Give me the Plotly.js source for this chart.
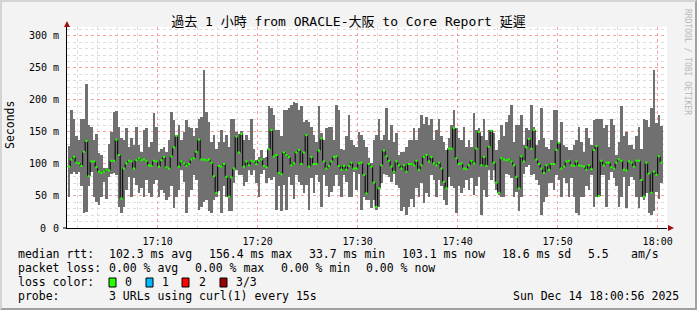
<!DOCTYPE html>
<html>
<head>
<meta charset="utf-8">
<script src="https://cdn.plot.ly/plotly-3.0.1.min.js"></script>
<style>
html,body{margin:0;padding:0;background:#f3f3f3;}
#wrap{position:relative;width:697px;height:310px;}
#chart{width:697px;height:310px;}
#frame{position:absolute;left:0;top:0;width:697px;height:310px;box-sizing:border-box;
border-top:2px solid #d4d4d4;border-left:2px solid #d4d4d4;border-right:2px solid #a0a0a0;border-bottom:2px solid #a0a0a0;pointer-events:none;}
</style>
</head>
<body>
<div id="wrap"><div id="chart"></div><div id="frame"></div></div>
<script>
// ---- data (ms), one value per 15 s step starting 17:01:00 ----
const startTime = '2025-12-14 17:01:00';
const stepSeconds = 15;

const medianMs = [
 96,107,111,102,101,97,119,136,81,104,
 104,95,88,86,88,91,90,105,105,138,
 114,46,93,101,105,104,93,106,109,106,
 107,105,98,97,105,104,96,106,111,95,
 93,112,126,144,96,104,101,97,100,107,
 109,119,138,107,107,106,107,102,81,55,
 97,96,100,80,49,79,93,143,118,147,
 96,104,98,105,104,100,105,107,97,95,
 123,153,112,114,86,84,118,114,111,98,
 101,118,122,100,118,145,96,111,100,100,
 121,140,104,93,97,104,111,112,97,91,
 97,91,97,102,93,93,101,102,83,54,
 100,96,71,33,62,98,121,112,105,96,
 88,104,98,93,98,88,100,100,98,105,
 91,98,111,114,104,111,101,98,102,93,
 72,62,124,124,156,109,100,101,93,92,
 98,105,101,124,150,98,111,97,127,152,
 102,71,55,109,107,106,107,104,98,80,
 62,112,104,126,139,124,153,107,100,93,
 86,98,91,100,100,122,133,93,96,104,
 105,98,97,104,98,97,96,91,98,92,
 122,128,50,105,98,102,102,95,93,102,
 107,105,91,90,104,102,96,105,105,75,
 49,102,85,55,88,83,112,102
];

const minMs = [
 49,85,88,85,88,66,23,25,65,88,
 49,41,36,49,72,45,80,85,86,83,
 33,23,33,59,80,49,78,67,54,62,
 49,75,54,49,69,75,49,59,54,44,
 49,65,31,49,59,91,72,23,49,59,
 83,75,28,33,41,44,26,23,44,49,
 58,23,65,49,26,26,71,91,83,83,
 65,72,91,83,91,70,49,85,91,70,
 78,75,80,28,65,26,67,28,80,67,
 46,83,72,67,54,67,28,78,54,83,
 72,33,83,65,49,57,65,83,65,49,
 83,72,49,49,88,59,85,28,49,44,
 44,31,44,28,33,70,85,83,80,72,
 85,67,62,26,33,20,33,46,33,62,
 49,70,39,54,49,83,75,49,75,65,
 44,36,80,65,62,23,65,54,62,75,
 59,78,52,65,80,20,59,49,91,75,
 91,59,52,49,49,85,83,78,49,57,
 26,49,85,96,98,83,85,75,67,20,
 41,49,70,70,59,83,75,49,78,70,
 49,78,49,23,20,49,49,65,59,83,
 33,49,49,83,83,33,75,88,78,65,
 33,49,80,31,65,80,75,49,31,49,
 44,54,23,20,26,57,46,70
];

const maxMs = [
 128,184,170,143,137,171,171,225,161,158,
 137,147,117,114,93,93,132,150,182,183,
 158,140,137,156,127,140,130,158,130,119,
 153,156,127,135,180,158,119,124,127,119,
 137,182,169,145,161,137,150,169,158,156,
 143,156,171,174,247,182,166,135,145,124,
 135,153,135,145,127,171,171,150,147,152,
 137,145,137,171,124,106,111,122,109,111,
 190,187,177,153,153,143,184,184,187,192,
 197,195,184,190,166,169,166,158,145,135,
 190,148,137,156,158,158,137,192,184,124,
 122,143,177,137,130,127,150,145,137,127,
 109,101,137,145,171,137,145,187,137,161,
 135,148,114,119,119,127,137,137,156,137,
 156,177,163,174,161,171,137,153,171,143,
 135,122,140,161,184,156,140,137,158,127,
 137,127,179,153,156,143,171,137,153,153,
 148,122,137,161,143,166,177,192,135,161,
 161,177,130,156,153,192,158,130,137,187,
 140,127,124,137,184,185,135,166,130,127,
 122,122,130,137,158,135,119,156,140,130,
 169,171,171,171,156,161,127,171,161,114,
 135,190,143,150,130,130,124,143,158,124,
 171,169,158,187,247,164,177,160
];

const yTickVals = [0,50,100,150,200,250,300];
const yTickText = ['0','50 m','100 m','150 m','200 m','250 m','300 m'];
const xTickVals = ['2025-12-14 17:10:00','2025-12-14 17:20:00','2025-12-14 17:30:00','2025-12-14 17:40:00','2025-12-14 17:50:00','2025-12-14 18:00:00'];
const xTickText = ['17:10','17:20','17:30','17:40','17:50','18:00'];
const xRange = ['2025-12-14 17:00:56','2025-12-14 18:00:56'];

const titleText = '過去 1 小時 from ORACLE-大阪 to Core Report 延遲';

// ---- build time positions ----
const t0 = new Date(startTime.replace(' ','T')+'Z').getTime();
function fmt(ms){ const d=new Date(ms); return d.toISOString().replace('T',' ').replace('Z',''); }
const n = medianMs.length;
const centers=[], starts=[], spans=[], greenX=[], greenY=[];
for(let i=0;i<n;i++){
  const s=t0+i*stepSeconds*1000, e=s+stepSeconds*1000;
  starts.push(fmt(s)); centers.push(fmt(s+stepSeconds*500));
  spans.push(maxMs[i]-minMs[i]);
  greenX.push(fmt(s),fmt(e),null); greenY.push(medianMs[i],medianMs[i],null);
}
const stepX = starts.concat([fmt(t0+n*stepSeconds*1000)]);
const stepY = medianMs.concat([medianMs[n-1]]);

const mono = 'DejaVu Sans Mono, Noto Sans CJK JP, monospace';
const L=67, R=667, T=27, B=228;
const px = v => (v-L)/(R-L);
const py = v => (B-v)/(B-T);

const traces = [
  {type:'bar', x:centers, base:minMs, y:spans, width:stepSeconds*1000,
   marker:{color:'#707070', line:{width:0}}, hoverinfo:'skip'},
  {type:'scatter', mode:'lines', x:stepX, y:stepY, line:{shape:'hv', color:'#000000', width:1}, hoverinfo:'skip'},
  {type:'scatter', mode:'lines', x:greenX, y:greenY, line:{color:'#26ff00', width:2}, connectgaps:false, hoverinfo:'skip'}
];

const annotations = [
  {text:'Seconds', xref:'paper', yref:'paper', x:px(10), y:py(125), xanchor:'center', yanchor:'middle', textangle:-90, showarrow:false, font:{family:mono, size:11.5, color:'#000'}},
  {text:'RRDTOOL / TOBI OETIKER', xref:'paper', yref:'paper', x:px(688), y:py(62), xanchor:'center', yanchor:'middle', textangle:90, showarrow:false, font:{family:mono, size:8, color:'#b8b8b8'}},
  {text:'0', xref:'paper', yref:'paper', x:px(48), y:py(228), xanchor:'right', yanchor:'middle', showarrow:false, font:{family:mono, size:10, color:'#000'}}
];
function legendText(txt, x, y){ annotations.push({text:txt, xref:'paper', yref:'paper', x:px(x), y:py(y), xanchor:'left', yanchor:'middle', showarrow:false, font:{family:mono, size:11.5, color:'#000'}}); }
legendText('median rtt:',16,254);
legendText('102.3 ms avg',107,254);
legendText('156.4 ms max',207,254);
legendText('33.7 ms min',307,254);
legendText('103.1 ms now',400,254);
legendText('18.6 ms sd',500,254);
legendText('5.5',586,254);
legendText('am/s',629,254);
legendText('packet loss:',16,268);
legendText('0.00 % avg',107,268);
legendText('0.00 % max',193,268);
legendText('0.00 % min',279,268);
legendText('0.00 % now',364,268);
legendText('loss color:',16,282);
legendText('0',123,282);
legendText('1',160,282);
legendText('2',197,282);
legendText('3/3',234,282);
legendText('probe:',16,296);
legendText('3 URLs using curl(1) every 15s',107,296);
annotations.push({text:'Sun Dec 14 18:00:56 2025', xref:'paper', yref:'paper', x:px(681), y:py(296), xanchor:'right', yanchor:'middle', showarrow:false, font:{family:mono, size:11.5, color:'#000'}});

const lossColors = ['#26ff00','#00b8ff','#ff0000','#990000'];
const boxX = [109,146,182,220];
const shapes = [];
lossColors.forEach((c,i)=>{
  shapes.push({type:'rect', xref:'paper', yref:'paper', x0:px(boxX[i]), x1:px(boxX[i]+7), y0:py(287), y1:py(278), fillcolor:c, line:{color:'#000', width:1}});
});
// axis arrows
shapes.push({type:'path', xref:'paper', yref:'paper', path:`M ${px(64)} ${py(27)} L ${px(70)} ${py(27)} L ${px(67)} ${py(21)} Z`, fillcolor:'#a01010', line:{width:0}});
shapes.push({type:'path', xref:'paper', yref:'paper', path:`M ${px(668)} ${py(225)} L ${px(668)} ${py(231)} L ${px(674)} ${py(228)} Z`, fillcolor:'#a01010', line:{width:0}});
// small tick at zero
shapes.push({type:'line', xref:'paper', yref:'paper', x0:px(63), x1:px(67), y0:0, y1:0, line:{color:'#000', width:1}});

const layout = {
  width:697, height:310,
  margin:{l:L, r:697-R, t:T, b:310-B, pad:0},
  paper_bgcolor:'#f3f3f3', plot_bgcolor:'#ffffff',
  showlegend:false, bargap:0,
  title:{text:titleText, xref:'container', yref:'container', x:0.5, y:1-21/310, xanchor:'center', yanchor:'middle', font:{family:mono, size:13, color:'#000'}},
  xaxis:{type:'date', range:xRange, tickvals:xTickVals, ticktext:xTickText, tickfont:{family:mono, size:10, color:'#000'},
    showgrid:true, gridcolor:'#f2a0a0', griddash:'dot', gridwidth:1,
    minor:{dtick:120000, tick0:'2025-12-14 17:00:00', showgrid:true, gridcolor:'#dcdcdc', griddash:'dot', gridwidth:1},
    showline:true, linecolor:'#000', linewidth:1, ticks:'', ticklabelstandoff:4, zeroline:false, fixedrange:true},
  yaxis:{range:[0,314], tickvals:yTickVals, ticktext:yTickText, tickfont:{family:mono, size:10, color:'#000'},
    showgrid:true, gridcolor:'#f2a0a0', griddash:'dot', gridwidth:1,
    minor:{dtick:10, showgrid:true, gridcolor:'#dcdcdc', griddash:'dot', gridwidth:1},
    showline:true, linecolor:'#000', linewidth:1, ticks:'', ticklabelstandoff:5, zeroline:false, fixedrange:true},
  annotations:annotations, shapes:shapes
};

Plotly.newPlot('chart', traces, layout, {displayModeBar:false, staticPlot:true});
</script>
</body>
</html>
